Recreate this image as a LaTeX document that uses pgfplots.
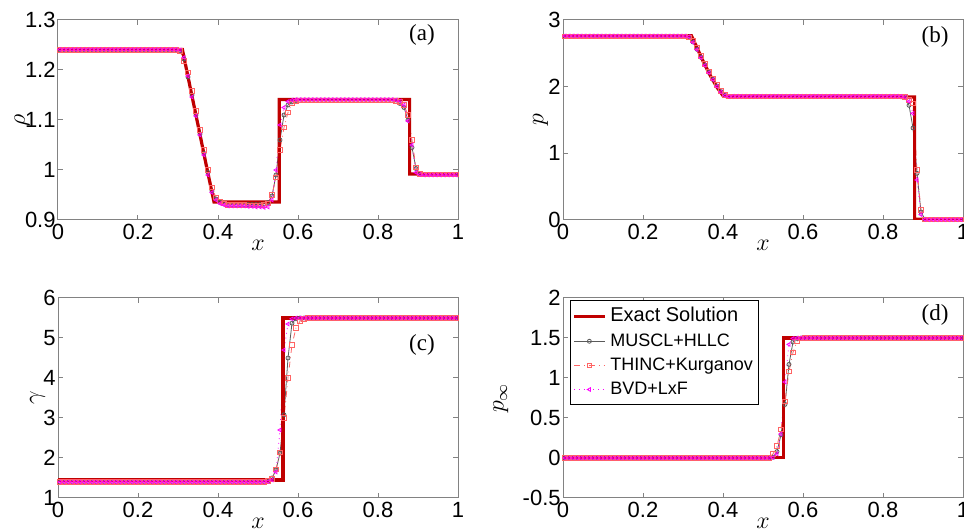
\documentclass[border=0pt]{standalone}
\usepackage{pgfplots}
\usepackage{pgfplotstable}
\pgfplotsset{compat=1.18}
\usepackage{fontspec}
\setmainfont{Liberation Sans}
\newfontfamily\seriffont{Liberation Serif}
\definecolor{exactred}{RGB}{192,0,0}
\definecolor{musclgray}{RGB}{90,90,90}
\definecolor{thincred}{RGB}{255,100,100}
\definecolor{bvdmag}{RGB}{255,0,255}
\definecolor{axgray}{RGB}{130,130,130}

\pgfplotstableread{
x m t b
0.005 1.240 1.240 1.241
0.015 1.240 1.240 1.241
0.025 1.240 1.240 1.241
0.035 1.240 1.240 1.241
0.045 1.240 1.240 1.241
0.055 1.240 1.240 1.241
0.065 1.240 1.240 1.241
0.075 1.240 1.240 1.241
0.085 1.240 1.240 1.241
0.095 1.240 1.240 1.241
0.105 1.240 1.240 1.241
0.115 1.240 1.240 1.241
0.125 1.240 1.240 1.241
0.135 1.240 1.240 1.241
0.145 1.240 1.240 1.241
0.155 1.240 1.240 1.241
0.165 1.240 1.240 1.241
0.175 1.240 1.240 1.241
0.185 1.240 1.240 1.241
0.195 1.240 1.240 1.241
0.205 1.240 1.240 1.241
0.215 1.240 1.240 1.241
0.225 1.240 1.240 1.241
0.235 1.240 1.240 1.241
0.245 1.240 1.240 1.241
0.255 1.240 1.240 1.241
0.265 1.240 1.240 1.241
0.275 1.240 1.240 1.241
0.285 1.240 1.240 1.241
0.295 1.240 1.240 1.241
0.305 1.239 1.238 1.240
0.315 1.222 1.218 1.225
0.325 1.186 1.195 1.188
0.335 1.150 1.158 1.146
0.345 1.110 1.118 1.108
0.355 1.072 1.080 1.070
0.365 1.033 1.040 1.030
0.375 0.995 1.000 0.990
0.385 0.958 0.965 0.955
0.395 0.942 0.945 0.940
0.405 0.935 0.937 0.933
0.415 0.932 0.933 0.930
0.425 0.931 0.930 0.928
0.435 0.931 0.930 0.928
0.445 0.931 0.930 0.928
0.455 0.931 0.930 0.928
0.465 0.931 0.930 0.928
0.475 0.931 0.929 0.927
0.485 0.931 0.929 0.927
0.495 0.931 0.929 0.926
0.505 0.931 0.929 0.926
0.515 0.932 0.930 0.925
0.525 0.935 0.933 0.926
0.535 0.948 0.950 0.940
0.545 0.990 0.985 1.000
0.555 1.060 1.040 1.090
0.565 1.110 1.085 1.125
0.575 1.130 1.115 1.137
0.585 1.136 1.133 1.140
0.595 1.138 1.137 1.141
0.605 1.139 1.139 1.141
0.615 1.139 1.139 1.141
0.625 1.139 1.139 1.141
0.635 1.139 1.139 1.141
0.645 1.139 1.139 1.141
0.655 1.139 1.139 1.141
0.665 1.139 1.139 1.141
0.675 1.139 1.139 1.141
0.685 1.139 1.139 1.141
0.695 1.139 1.139 1.141
0.705 1.139 1.139 1.141
0.715 1.139 1.139 1.141
0.725 1.139 1.139 1.141
0.735 1.139 1.139 1.141
0.745 1.139 1.139 1.141
0.755 1.139 1.139 1.141
0.765 1.139 1.139 1.141
0.775 1.139 1.139 1.141
0.785 1.139 1.139 1.141
0.795 1.139 1.139 1.141
0.805 1.139 1.139 1.141
0.815 1.139 1.139 1.141
0.825 1.139 1.139 1.141
0.835 1.139 1.139 1.141
0.845 1.137 1.138 1.140
0.855 1.133 1.136 1.138
0.865 1.125 1.130 1.130
0.875 1.100 1.110 1.098
0.885 1.045 1.060 1.050
0.895 1.003 1.005 0.995
0.905 0.993 0.992 0.991
0.915 0.991 0.991 0.990
0.925 0.991 0.991 0.990
0.935 0.991 0.991 0.990
0.945 0.991 0.991 0.990
0.955 0.991 0.991 0.990
0.965 0.991 0.991 0.990
0.975 0.991 0.991 0.990
0.985 0.991 0.991 0.990
0.995 0.991 0.991 0.990
}\tabA

\pgfplotstableread{
x m t b
0.005 2.755 2.755 2.760
0.015 2.755 2.755 2.760
0.025 2.755 2.755 2.760
0.035 2.755 2.755 2.760
0.045 2.755 2.755 2.760
0.055 2.755 2.755 2.760
0.065 2.755 2.755 2.760
0.075 2.755 2.755 2.760
0.085 2.755 2.755 2.760
0.095 2.755 2.755 2.760
0.105 2.755 2.755 2.760
0.115 2.755 2.755 2.760
0.125 2.755 2.755 2.760
0.135 2.755 2.755 2.760
0.145 2.755 2.755 2.760
0.155 2.755 2.755 2.760
0.165 2.755 2.755 2.760
0.175 2.755 2.755 2.760
0.185 2.755 2.755 2.760
0.195 2.755 2.755 2.760
0.205 2.755 2.755 2.760
0.215 2.755 2.755 2.760
0.225 2.755 2.755 2.760
0.235 2.755 2.755 2.760
0.245 2.755 2.755 2.760
0.255 2.755 2.755 2.760
0.265 2.755 2.755 2.760
0.275 2.755 2.755 2.760
0.285 2.755 2.755 2.760
0.295 2.755 2.755 2.760
0.305 2.755 2.755 2.760
0.315 2.745 2.740 2.750
0.325 2.670 2.690 2.665
0.335 2.560 2.590 2.555
0.345 2.440 2.460 2.435
0.355 2.325 2.340 2.320
0.365 2.215 2.230 2.210
0.375 2.110 2.125 2.105
0.385 2.010 2.025 2.005
0.395 1.925 1.935 1.920
0.405 1.870 1.875 1.868
0.415 1.852 1.855 1.852
0.425 1.850 1.852 1.856
0.435 1.850 1.852 1.856
0.445 1.850 1.852 1.856
0.455 1.850 1.852 1.856
0.465 1.850 1.852 1.856
0.475 1.850 1.852 1.856
0.485 1.850 1.852 1.856
0.495 1.850 1.852 1.856
0.505 1.850 1.852 1.856
0.515 1.850 1.852 1.856
0.525 1.850 1.852 1.856
0.535 1.850 1.852 1.856
0.545 1.850 1.852 1.856
0.555 1.850 1.852 1.856
0.565 1.850 1.852 1.856
0.575 1.850 1.852 1.856
0.585 1.850 1.852 1.856
0.595 1.850 1.852 1.856
0.605 1.850 1.852 1.856
0.615 1.850 1.852 1.856
0.625 1.850 1.852 1.856
0.635 1.850 1.852 1.856
0.645 1.850 1.852 1.856
0.655 1.850 1.852 1.856
0.665 1.850 1.852 1.856
0.675 1.850 1.852 1.856
0.685 1.850 1.852 1.856
0.695 1.850 1.852 1.856
0.705 1.850 1.852 1.856
0.715 1.850 1.852 1.856
0.725 1.850 1.852 1.856
0.735 1.850 1.852 1.856
0.745 1.850 1.852 1.856
0.755 1.850 1.852 1.856
0.765 1.850 1.852 1.856
0.775 1.850 1.852 1.856
0.785 1.850 1.852 1.856
0.795 1.850 1.852 1.856
0.805 1.850 1.852 1.856
0.815 1.850 1.852 1.856
0.825 1.850 1.852 1.856
0.835 1.850 1.852 1.856
0.845 1.848 1.851 1.854
0.855 1.835 1.845 1.845
0.865 1.720 1.800 1.780
0.875 1.380 1.750 1.600
0.885 0.700 0.750 0.600
0.895 0.120 0.150 0.080
0.905 0.010 0.012 0.008
0.915 0.005 0.005 0.005
0.925 0.005 0.005 0.005
0.935 0.005 0.005 0.005
0.945 0.005 0.005 0.005
0.955 0.005 0.005 0.005
0.965 0.005 0.005 0.005
0.975 0.005 0.005 0.005
0.985 0.005 0.005 0.005
0.995 0.005 0.005 0.005
}\tabB

\pgfplotstableread{
x m t b
0.005 1.400 1.400 1.400
0.015 1.400 1.400 1.400
0.025 1.400 1.400 1.400
0.035 1.400 1.400 1.400
0.045 1.400 1.400 1.400
0.055 1.400 1.400 1.400
0.065 1.400 1.400 1.400
0.075 1.400 1.400 1.400
0.085 1.400 1.400 1.400
0.095 1.400 1.400 1.400
0.105 1.400 1.400 1.400
0.115 1.400 1.400 1.400
0.125 1.400 1.400 1.400
0.135 1.400 1.400 1.400
0.145 1.400 1.400 1.400
0.155 1.400 1.400 1.400
0.165 1.400 1.400 1.400
0.175 1.400 1.400 1.400
0.185 1.400 1.400 1.400
0.195 1.400 1.400 1.400
0.205 1.400 1.400 1.400
0.215 1.400 1.400 1.400
0.225 1.400 1.400 1.400
0.235 1.400 1.400 1.400
0.245 1.400 1.400 1.400
0.255 1.400 1.400 1.400
0.265 1.400 1.400 1.400
0.275 1.400 1.400 1.400
0.285 1.400 1.400 1.400
0.295 1.400 1.400 1.400
0.305 1.400 1.400 1.400
0.315 1.400 1.400 1.400
0.325 1.400 1.400 1.400
0.335 1.400 1.400 1.400
0.345 1.400 1.400 1.400
0.355 1.400 1.400 1.400
0.365 1.400 1.400 1.400
0.375 1.400 1.400 1.400
0.385 1.400 1.400 1.400
0.395 1.400 1.400 1.400
0.405 1.400 1.400 1.400
0.415 1.400 1.400 1.400
0.425 1.400 1.400 1.400
0.435 1.400 1.400 1.400
0.445 1.400 1.400 1.400
0.455 1.400 1.400 1.400
0.465 1.400 1.400 1.400
0.475 1.400 1.400 1.400
0.485 1.400 1.400 1.400
0.495 1.400 1.400 1.400
0.505 1.400 1.400 1.400
0.515 1.400 1.400 1.400
0.525 1.420 1.430 1.410
0.535 1.500 1.480 1.450
0.545 1.700 1.720 1.650
0.555 2.120 2.140 2.700
0.565 3.080 3.000 4.700
0.575 4.500 4.000 5.350
0.585 5.370 4.830 5.480
0.595 5.480 5.250 5.500
0.605 5.500 5.420 5.500
0.615 5.500 5.480 5.500
0.625 5.500 5.500 5.500
0.635 5.500 5.500 5.500
0.645 5.500 5.500 5.500
0.655 5.500 5.500 5.500
0.665 5.500 5.500 5.500
0.675 5.500 5.500 5.500
0.685 5.500 5.500 5.500
0.695 5.500 5.500 5.500
0.705 5.500 5.500 5.500
0.715 5.500 5.500 5.500
0.725 5.500 5.500 5.500
0.735 5.500 5.500 5.500
0.745 5.500 5.500 5.500
0.755 5.500 5.500 5.500
0.765 5.500 5.500 5.500
0.775 5.500 5.500 5.500
0.785 5.500 5.500 5.500
0.795 5.500 5.500 5.500
0.805 5.500 5.500 5.500
0.815 5.500 5.500 5.500
0.825 5.500 5.500 5.500
0.835 5.500 5.500 5.500
0.845 5.500 5.500 5.500
0.855 5.500 5.500 5.500
0.865 5.500 5.500 5.500
0.875 5.500 5.500 5.500
0.885 5.500 5.500 5.500
0.895 5.500 5.500 5.500
0.905 5.500 5.500 5.500
0.915 5.500 5.500 5.500
0.925 5.500 5.500 5.500
0.935 5.500 5.500 5.500
0.945 5.500 5.500 5.500
0.955 5.500 5.500 5.500
0.965 5.500 5.500 5.500
0.975 5.500 5.500 5.500
0.985 5.500 5.500 5.500
0.995 5.500 5.500 5.500
}\tabC

\pgfplotstableread{
x m t b
0.005 0.000 0.000 0.000
0.015 0.000 0.000 0.000
0.025 0.000 0.000 0.000
0.035 0.000 0.000 0.000
0.045 0.000 0.000 0.000
0.055 0.000 0.000 0.000
0.065 0.000 0.000 0.000
0.075 0.000 0.000 0.000
0.085 0.000 0.000 0.000
0.095 0.000 0.000 0.000
0.105 0.000 0.000 0.000
0.115 0.000 0.000 0.000
0.125 0.000 0.000 0.000
0.135 0.000 0.000 0.000
0.145 0.000 0.000 0.000
0.155 0.000 0.000 0.000
0.165 0.000 0.000 0.000
0.175 0.000 0.000 0.000
0.185 0.000 0.000 0.000
0.195 0.000 0.000 0.000
0.205 0.000 0.000 0.000
0.215 0.000 0.000 0.000
0.225 0.000 0.000 0.000
0.235 0.000 0.000 0.000
0.245 0.000 0.000 0.000
0.255 0.000 0.000 0.000
0.265 0.000 0.000 0.000
0.275 0.000 0.000 0.000
0.285 0.000 0.000 0.000
0.295 0.000 0.000 0.000
0.305 0.000 0.000 0.000
0.315 0.000 0.000 0.000
0.325 0.000 0.000 0.000
0.335 0.000 0.000 0.000
0.345 0.000 0.000 0.000
0.355 0.000 0.000 0.000
0.365 0.000 0.000 0.000
0.375 0.000 0.000 0.000
0.385 0.000 0.000 0.000
0.395 0.000 0.000 0.000
0.405 0.000 0.000 0.000
0.415 0.000 0.000 0.000
0.425 0.000 0.000 0.000
0.435 0.000 0.000 0.000
0.445 0.000 0.000 0.000
0.455 0.000 0.000 0.000
0.465 0.000 0.000 0.000
0.475 0.000 0.000 0.000
0.485 0.000 0.000 0.000
0.495 0.000 0.000 0.000
0.505 0.000 0.000 0.000
0.515 0.000 0.000 0.000
0.525 0.010 0.050 0.005
0.535 0.080 0.150 0.050
0.545 0.290 0.360 0.300
0.555 0.670 0.710 0.950
0.565 1.170 1.080 1.420
0.575 1.450 1.320 1.495
0.585 1.495 1.460 1.500
0.595 1.500 1.495 1.500
0.605 1.500 1.500 1.500
0.615 1.500 1.500 1.500
0.625 1.500 1.500 1.500
0.635 1.500 1.500 1.500
0.645 1.500 1.500 1.500
0.655 1.500 1.500 1.500
0.665 1.500 1.500 1.500
0.675 1.500 1.500 1.500
0.685 1.500 1.500 1.500
0.695 1.500 1.500 1.500
0.705 1.500 1.500 1.500
0.715 1.500 1.500 1.500
0.725 1.500 1.500 1.500
0.735 1.500 1.500 1.500
0.745 1.500 1.500 1.500
0.755 1.500 1.500 1.500
0.765 1.500 1.500 1.500
0.775 1.500 1.500 1.500
0.785 1.500 1.500 1.500
0.795 1.500 1.500 1.500
0.805 1.500 1.500 1.500
0.815 1.500 1.500 1.500
0.825 1.500 1.500 1.500
0.835 1.500 1.500 1.500
0.845 1.500 1.500 1.500
0.855 1.500 1.500 1.500
0.865 1.500 1.500 1.500
0.875 1.500 1.500 1.500
0.885 1.500 1.500 1.500
0.895 1.500 1.500 1.500
0.905 1.500 1.500 1.500
0.915 1.500 1.500 1.500
0.925 1.500 1.500 1.500
0.935 1.500 1.500 1.500
0.945 1.500 1.500 1.500
0.955 1.500 1.500 1.500
0.965 1.500 1.500 1.500
0.975 1.500 1.500 1.500
0.985 1.500 1.500 1.500
0.995 1.500 1.500 1.500
}\tabD

\pgfplotsset{
  panel/.style={
    scale only axis, width=200pt, height=100pt,
    xmin=0, xmax=1, xtick={0,0.2,0.4,0.6,0.8,1},
    tick align=inside,
    axis line style={axgray, line width=0.5pt},
    tick style={axgray, line width=0.5pt},
    major tick length=2.5pt,
    tick label style={font=\fontsize{11}{11}\selectfont, black},
    /pgf/number format/assume math mode=true,
    xticklabel style={inner sep=1pt, yshift=-1pt},
    yticklabel style={inner sep=1pt},
    xlabel={$x$},
    xlabel style={font=\fontsize{13}{13}\selectfont, inner sep=0pt, yshift=1pt},
    ylabel style={font=\fontsize{12}{12}\selectfont, inner sep=0pt},
    clip=true,
  },
  exact/.style={exactred, line width=1.6pt, no markers},
  muscl/.style={musclgray, line width=0.4pt, mark=o, mark size=1pt, mark options={solid}},
  thinc/.style={thincred, line width=0.4pt, dash dot, mark=square, mark size=1.1pt, mark options={solid}},
  bvd/.style={bvdmag, line width=0.4pt, dotted, mark=triangle, mark size=1.05pt, mark options={solid, rotate=90}},
}
\tikzset{plabel/.style={font=\seriffont\fontsize{11.5}{11.5}\selectfont, black}}

\begin{document}
\begin{tikzpicture}[x=1pt,y=1pt]
\useasboundingbox (0,0) rectangle (482,264.5);
\clip (0,0) rectangle (482,264.5);

% (a)
\begin{axis}[panel, at={(29pt,154.5pt)}, anchor=south west,
  ymin=0.9, ymax=1.3, ytick={0.9,1,1.1,1.2,1.3}, ylabel={$\rho$},
  ylabel style={yshift=-3.5pt}]
\addplot[muscl] table[x=x,y=m]{\tabA};
\addplot[thinc] table[x=x,y=t]{\tabA};
\addplot[bvd] table[x=x,y=b]{\tabA};
\addplot[exact] coordinates {(0,1.241)(0.311,1.241)(0.33,1.167)(0.35,1.090)(0.37,1.012)(0.39,0.936)(0.553,0.936)(0.553,1.141)(0.879,1.141)(0.879,0.992)(1,0.992)};
\node[plabel] at (rel axis cs:0.91,0.925) {(a)};
\end{axis}

% (b)
\begin{axis}[panel, at={(281.5pt,154.5pt)}, anchor=south west,
  ymin=0, ymax=3, ytick={0,1,2,3}, ylabel={$p$},
  ylabel style={yshift=-1pt}]
\addplot[muscl] table[x=x,y=m]{\tabB};
\addplot[thinc] table[x=x,y=t]{\tabB};
\addplot[bvd] table[x=x,y=b]{\tabB};
\addplot[exact] coordinates {(0,2.765)(0.321,2.765)(0.333,2.61)(0.35,2.385)(0.367,2.18)(0.385,1.99)(0.40,1.865)(0.41,1.848)(0.879,1.845)(0.879,0.01)(1,0.01)};
\node[plabel] at (rel axis cs:0.93,0.915) {(b)};
\end{axis}

% (c)
\begin{axis}[panel, at={(29pt,15.5pt)}, anchor=south west,
  ymin=1, ymax=6, ytick={1,2,3,4,5,6}, ylabel={$\gamma$},
  ylabel style={yshift=-2pt}]
\addplot[muscl] table[x=x,y=m]{\tabC};
\addplot[thinc] table[x=x,y=t]{\tabC};
\addplot[bvd] table[x=x,y=b]{\tabC};
\addplot[exact] coordinates {(0,1.45)(0.5625,1.45)(0.5625,5.5)(1,5.5)};
\node[plabel] at (rel axis cs:0.91,0.765) {(c)};
\end{axis}

% (d)
\begin{axis}[panel, at={(281.5pt,15.5pt)}, anchor=south west,
  ymin=-0.5, ymax=2, ytick={-0.5,0,0.5,1,1.5,2}, ylabel={$p_{\infty}$},
  ylabel style={yshift=6pt},
  legend style={at={(0.0175,0.99)}, anchor=north west, draw=black,
    font=\fontsize{9}{9}\selectfont, inner xsep=1pt, inner ysep=1.5pt, row sep=0.3pt,
    legend cell align=left},
  legend image code/.code={\draw[mark repeat=2,mark phase=2,#1] plot coordinates {(0cm,0cm)(0.27cm,0cm)(0.54cm,0cm)};}]
\addlegendimage{exact}
\addlegendentry{\fontsize{10}{10}\selectfont Exact Solution}
\addlegendimage{muscl}
\addlegendentry{MUSCL+HLLC}
\addlegendimage{thinc}
\addlegendentry{THINC+Kurganov}
\addlegendimage{bvd}
\addlegendentry{BVD+LxF}
\addplot[muscl, forget plot] table[x=x,y=m]{\tabD};
\addplot[thinc, forget plot] table[x=x,y=t]{\tabD};
\addplot[bvd, forget plot] table[x=x,y=b]{\tabD};
\addplot[exact, forget plot] coordinates {(0,0.005)(0.552,0.005)(0.552,1.5)(1,1.5)};
\node[plabel] at (rel axis cs:0.93,0.915) {(d)};
\end{axis}
\end{tikzpicture}
\end{document}
